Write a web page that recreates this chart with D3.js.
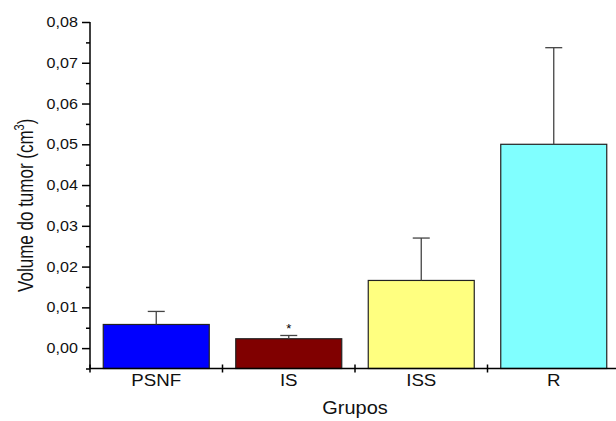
<!DOCTYPE html>
<html>
<head>
<meta charset="utf-8">
<script src="https://cdn.jsdelivr.net/npm/d3@7"></script>
<style>
    body { margin: 0; background: #fff; }
    svg { display: block; font-family: "Liberation Sans", Arial, sans-serif; }
</style>
</head>
<body>
<svg id="chart" width="616" height="421"></svg>
<script>
// data
var groups = ['PSNF', 'IS', 'ISS', 'R'];
var means = [0.0058, 0.0023, 0.0166, 0.0500];
var errTops = [0.0090, 0.0031, 0.0270, 0.0737];
var barColors = ['#0000ff', '#800000', '#ffff80', '#80ffff'];
var marks = ['', '*', '', ''];
var yTicks = [0, 0.01, 0.02, 0.03, 0.04, 0.05, 0.06, 0.07, 0.08];
var yMinor = [-0.005, 0.005, 0.015, 0.025, 0.035, 0.045, 0.055, 0.065, 0.075];

var chart = function () {
    var svg = d3.select('#chart');

    var left = 90, right = 620, plotTop = 22, bottom = 368.5;

    var x = d3.scaleBand().domain(groups).range([left, right]).paddingInner(0.2).paddingOuter(0.1);
    var xEdges = d3.scaleLinear().domain([0, groups.length]).range([left, right]);
    var y = d3.scaleLinear().domain([-0.005, 0.08]).range([bottom, plotTop]);

    var fmt = function (d) {
        return d3.format('.2f')(d).replace('.', ',');
    };
    var cx = function (d) {
        return x(d) + x.bandwidth() / 2;
    };

    // bars
    svg.selectAll('rect.bar')
        .data(groups)
        .enter()
        .append('rect')
        .attr('class', 'bar')
        .attr('x', function (d) { return x(d); })
        .attr('width', x.bandwidth())
        .attr('y', function (d, i) { return y(means[i]); })
        .attr('height', function (d, i) { return y(-0.005) - y(means[i]); })
        .style('fill', function (d, i) { return barColors[i]; })
        .style('stroke', '#222')
        .style('stroke-width', 1.2);

    // error bars (upper only)
    var eb = svg.selectAll('g.err')
        .data(groups)
        .enter()
        .append('g')
        .attr('class', 'err')
        .style('stroke', '#444')
        .style('stroke-width', 1.3);
    eb.append('line')
        .attr('x1', cx)
        .attr('x2', cx)
        .attr('y1', function (d, i) { return y(means[i]); })
        .attr('y2', function (d, i) { return y(errTops[i]); });
    eb.append('line')
        .attr('x1', function (d) { return cx(d) - 8.5; })
        .attr('x2', function (d) { return cx(d) + 8.5; })
        .attr('y1', function (d, i) { return y(errTops[i]); })
        .attr('y2', function (d, i) { return y(errTops[i]); });

    svg.selectAll('text.mark')
        .data(groups)
        .enter()
        .append('text')
        .attr('class', 'mark')
        .attr('x', cx)
        .attr('y', function (d, i) { return y(errTops[i]) - 2.5; })
        .attr('text-anchor', 'middle')
        .style('font-size', '13px')
        .text(function (d, i) { return marks[i]; });

    // y axis (text is a bit wider than tall in the source, hence the scale)
    var yAxis = d3.axisLeft(y).tickValues(yTicks).tickFormat(fmt).tickSize(8).tickPadding(2.5);
    var gy = svg.append('g').attr('transform', 'translate(' + left + ',0)').call(yAxis);
    gy.select('.domain').attr('d', 'M0,' + y(0.08) + 'V' + bottom).style('stroke-width', 1.5);
    gy.selectAll('.tick line').style('stroke-width', 1.5);
    gy.selectAll('text')
        .attr('transform', 'scale(1.15,1)')
        .style('font-size', '14px')
        .style('fill', '#111');
    svg.append('g').attr('transform', 'translate(' + left + ',0)')
        .call(d3.axisLeft(y).tickValues(yMinor).tickFormat('').tickSize(4))
        .call(function (g) { g.select('.domain').remove(); })
        .selectAll('line').style('stroke-width', 1.5);

    // x axis
    var gx = svg.append('g').attr('transform', 'translate(0,' + bottom + ')');
    gx.append('line').attr('x1', left).attr('x2', right).style('stroke', '#000').style('stroke-width', 1.5);
    gx.selectAll('line.tk')
        .data(d3.range(groups.length + 1))
        .enter()
        .append('line')
        .attr('class', 'tk')
        .attr('x1', function (d) { return xEdges(d); })
        .attr('x2', function (d) { return xEdges(d); })
        .attr('y1', -4)
        .attr('y2', 4)
        .style('stroke', '#000')
        .style('stroke-width', 1.5);
    gx.selectAll('text')
        .data(groups)
        .enter()
        .append('text')
        .attr('transform', function (d) { return 'translate(' + cx(d) + ',17) scale(1.1,1)'; })
        .attr('text-anchor', 'middle')
        .style('font-size', '17px')
        .style('fill', '#111')
        .text(function (d) { return d; });

    // axis titles
    svg.append('text')
        .attr('transform', 'translate(' + ((left + right) / 2) + ',414) scale(1.05,1)')
        .attr('text-anchor', 'middle')
        .style('font-size', '19px')
        .style('fill', '#111')
        .text('Grupos');

    var yt = svg.append('text')
        .attr('transform', 'translate(33,' + ((plotTop + bottom) / 2 + 10) + ') rotate(-90) scale(1,1.25)')
        .attr('text-anchor', 'middle')
        .style('font-size', '17px')
        .style('fill', '#111');
    yt.append('tspan').text('Volume do tumor (cm');
    yt.append('tspan').attr('dy', -7).style('font-size', '11px').text('3');
    yt.append('tspan').attr('dy', 7).text(')');
};

chart();
</script>
</body>
</html>
